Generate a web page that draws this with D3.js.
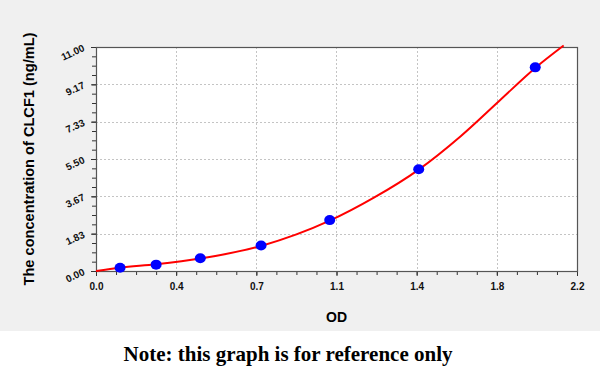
<!DOCTYPE html>
<html>
<head>
<meta charset="utf-8">
<script src="https://cdn.jsdelivr.net/npm/d3@7"></script>
<style>
  body { margin: 0; background: #fff; }
  svg { display: block; }
</style>
</head>
<body>
<div id="chart"></div>
<script>
// standard points (OD vs concentration)
const stdOD = [0.110, 0.275, 0.477, 0.755, 1.069, 1.476, 2.009];
const stdConc = [0.156, 0.3125, 0.625, 1.25, 2.5, 5, 10];

// fitted curve
const curveOD = [0, 0.110, 0.275, 0.477, 0.755, 1.069, 1.271, 1.476, 1.668, 1.844, 2.009, 2.139];
const curveConc = [0, 0.16, 0.33, 0.61, 1.23, 2.47, 3.6, 4.98, 6.62, 8.35, 9.97, 11.07];

const xTicks = [0, 2.2 / 6, 4.4 / 6, 6.6 / 6, 8.8 / 6, 11 / 6, 2.2];
const xTickLabels = ["0.0", "0.4", "0.7", "1.1", "1.4", "1.8", "2.2"];
const yTicks = [0, 11 / 6, 22 / 6, 33 / 6, 44 / 6, 55 / 6, 11];
const yTickLabels = ["0.00", "1.83", "3.67", "5.50", "7.33", "9.17", "11.00"];

const width = 600, height = 378;
const plot = {left: 96, right: 577, top: 47, bottom: 271};

const svg = d3.select("#chart").append("svg")
  .attr("width", width)
  .attr("height", height);

// grey panel behind the chart, white strip for the note
svg.append("rect").attr("x", 0).attr("y", 0).attr("width", width).attr("height", 331)
  .attr("fill", "#f0f0f0");

const x = d3.scaleLinear().domain([0, 2.2]).range([plot.left, plot.right]);
const y = d3.scaleLinear().domain([0, 11]).range([plot.bottom, plot.top]);

svg.append("rect")
  .attr("x", plot.left).attr("y", plot.top)
  .attr("width", plot.right - plot.left).attr("height", plot.bottom - plot.top)
  .attr("fill", "#fff");

// dotted grid
const grid = svg.append("g").attr("stroke", "#c4c4c4").attr("stroke-dasharray", "2,2").attr("stroke-width", 1);
grid.selectAll(".gx").data(xTicks.slice(1, -1)).join("line")
  .attr("x1", d => Math.round(x(d)) + 0.5).attr("x2", d => Math.round(x(d)) + 0.5)
  .attr("y1", plot.top).attr("y2", plot.bottom);
grid.selectAll(".gy").data(yTicks.slice(1, -1)).join("line")
  .attr("y1", d => Math.round(y(d)) + 0.5).attr("y2", d => Math.round(y(d)) + 0.5)
  .attr("x1", plot.left).attr("x2", plot.right);

// minor ticks (4 subdivisions)
const xMinor = d3.range(0, 25).map(i => i * 2.2 / 24);
const yMinor = d3.range(0, 25).map(i => i * 11 / 24);

svg.append("g")
  .attr("transform", "translate(0," + plot.bottom + ")")
  .call(d3.axisBottom(x).tickValues(xMinor).tickSize(4).tickFormat(""))
  .call(g => g.select(".domain").remove())
  .selectAll("line").attr("stroke", "#333");

svg.append("g")
  .attr("transform", "translate(" + plot.left + ",0)")
  .call(d3.axisLeft(y).tickValues(yMinor).tickSize(4).tickFormat(""))
  .call(g => g.select(".domain").remove())
  .selectAll("line").attr("stroke", "#333");

// major axes
const xAxis = svg.append("g")
  .attr("transform", "translate(0," + plot.bottom + ")")
  .call(d3.axisBottom(x).tickValues(xTicks).tickSize(5).tickPadding(7)
    .tickFormat((d, i) => xTickLabels[i]));
xAxis.select(".domain").remove();
xAxis.selectAll("line").attr("stroke", "#333");
xAxis.selectAll("text")
  .attr("font-family", "Liberation Sans, Arial, sans-serif")
  .attr("font-weight", "bold").attr("font-size", 10).attr("fill", "#111");

const yAxis = svg.append("g")
  .attr("transform", "translate(" + plot.left + ",0)")
  .call(d3.axisLeft(y).tickValues(yTicks).tickSize(5).tickFormat((d, i) => yTickLabels[i]));
yAxis.select(".domain").remove();
yAxis.selectAll("line").attr("stroke", "#333");
yAxis.selectAll("text")
  .attr("x", 0).attr("dy", "0.1em")
  .attr("transform", "translate(-11,2) rotate(-25)")
  .attr("font-family", "Liberation Sans, Arial, sans-serif")
  .attr("font-weight", "bold").attr("font-size", 10).attr("fill", "#111");

// frame
svg.append("rect")
  .attr("x", plot.left + 0.5).attr("y", plot.top + 0.5)
  .attr("width", plot.right - plot.left).attr("height", plot.bottom - plot.top)
  .attr("fill", "none").attr("stroke", "#555").attr("stroke-width", 1.2);

// fitted curve
const curveData = curveOD.map((d, i) => ({od: d, c: curveConc[i]}));
svg.append("path")
  .datum(curveData)
  .attr("fill", "none")
  .attr("stroke", "#ff0000")
  .attr("stroke-width", 2)
  .attr("d", d3.line().x(d => x(d.od)).y(d => y(d.c)).curve(d3.curveMonotoneX));

// points
const pts = stdOD.map((d, i) => ({od: d, c: stdConc[i]}));
svg.append("g").selectAll("ellipse").data(pts).join("ellipse")
  .attr("cx", d => x(d.od))
  .attr("cy", d => y(d.c))
  .attr("rx", 5.5).attr("ry", 5)
  .attr("fill", "#0000ff");

// axis titles
svg.append("text")
  .attr("x", (plot.left + plot.right) / 2).attr("y", 322)
  .attr("text-anchor", "middle")
  .attr("font-family", "Liberation Sans, Arial, sans-serif")
  .attr("font-weight", "bold").attr("font-size", 14)
  .text("OD");

svg.append("text")
  .attr("transform", "translate(34," + (plot.top + plot.bottom) / 2 + ") rotate(-90)")
  .attr("text-anchor", "middle")
  .attr("font-family", "Liberation Sans, Arial, sans-serif")
  .attr("font-weight", "bold").attr("font-size", 14.6)
  .text("The concentration of CLCF1 (ng/mL)");

// note
svg.append("text")
  .attr("x", 288).attr("y", 361)
  .attr("text-anchor", "middle")
  .attr("font-family", "Liberation Serif, serif")
  .attr("font-weight", "bold").attr("font-size", 21)
  .text("Note: this graph is for reference only");
</script>
</body>
</html>
